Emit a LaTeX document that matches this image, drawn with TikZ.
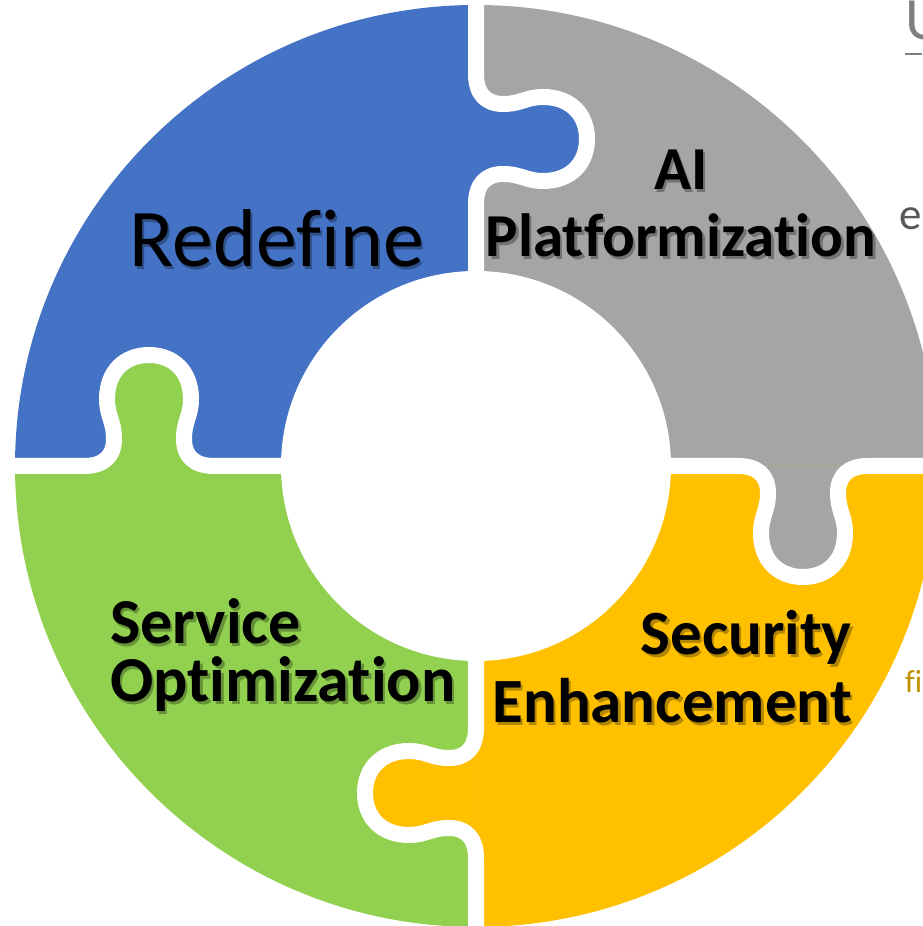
\documentclass[tikz,border=0pt]{standalone}
\usepackage{fontspec}
\setmainfont{Carlito}[Ligatures={NoCommon}]
\usetikzlibrary{calc}
\definecolor{pzblue}{HTML}{4472C4}
\definecolor{pzgray}{HTML}{A5A5A5}
\definecolor{pzyellow}{HTML}{FFC000}
\definecolor{pzgreen}{HTML}{92D050}
\definecolor{pzedgegray}{HTML}{7F7F7F}
\definecolor{pzdarkgray}{HTML}{595959}
\definecolor{pzgold}{HTML}{BF9000}
\newcommand\pzlabel[5]{%
  \node[#2, text=black, text opacity=0.3] (#1-sh) at (#3+2.5,#4-2.5) {#5};
  \node[#2] (#1) at (#3,#4) {#5};}
\begin{document}
\begin{tikzpicture}[x=1pt,y=1pt,
  tabcurve/.style={insert path={.. controls (-282,0) and (-292,10) .. (-292,27)
     .. controls (-292,45) and (-285,50) .. (-285,67)
     .. controls (-285,95) and (-303,111) .. (-327,111)
     .. controls (-351,111) and (-369,95) .. (-369,67)
     .. controls (-369,50) and (-362,45) .. (-362,27)
     .. controls (-362,10) and (-372,0) .. (-392,0)}},
  cutline/.style={draw=white, line width=16pt, line join=round, line cap=butt},
  reglabel/.style={inner sep=0pt, font=\fontsize{82}{82}\selectfont, text=black},
  boldlabel/.style={inner sep=0pt, font=\fontsize{61}{61}\selectfont\bfseries, text=black},
  boldlabelb/.style={inner sep=0pt, font=\fontsize{63}{63}\selectfont\bfseries, text=black},
  boldlabelc/.style={inner sep=0pt, font=\fontsize{64}{64}\selectfont\bfseries, text=black},
]
\useasboundingbox (0,0) rectangle (922,926);
\coordinate (C) at (476,460);
% quadrants
\fill[pzblue]   (C) -- ++(180:461) arc[start angle=180, end angle=90, radius=461] -- cycle;
\fill[pzgray]   (C) -- ++(90:461) arc[start angle=90, end angle=0, radius=461] -- cycle;
\fill[pzyellow] (C) -- ++(0:461) arc[start angle=360, end angle=270, radius=461] -- cycle;
\fill[pzgreen]  (C) -- ++(270:461) arc[start angle=270, end angle=180, radius=461] -- cycle;
% tabs
\fill[pzgreen,  shift={(C)}, rotate=0]    (-262,0) [tabcurve] -- cycle;
\fill[pzblue,   shift={(C)}, rotate=-90]  (-262,0) [tabcurve] -- cycle;
\fill[pzgray,   shift={(C)}, rotate=-180] (-262,0) [tabcurve] -- cycle;
\fill[pzyellow, shift={(C)}, rotate=-270] (-262,0) [tabcurve] -- cycle;
% white cuts
\foreach \a in {0,-90,-180,-270}{
  \draw[cutline, shift={(C)}, rotate=\a] (-150,0) -- (-262,0) [tabcurve] -- (-490,0);
}
% hole
\fill[white] (C) circle[radius=195];
% labels (with a soft drop shadow, as in the reference)
\pzlabel{redefine}{reglabel, anchor=base west}{129}{659}{Redefine}
\pzlabel{ai}{boldlabel, anchor=base}{681}{736}{AI}
\pzlabel{platform}{boldlabel, anchor=base}{681}{669}{Platformization}
\pzlabel{service}{boldlabelc, anchor=base west}{110}{282}{Service}
\pzlabel{optim}{boldlabelc, anchor=base west}{110}{224}{Optimization}
\pzlabel{security}{boldlabelb, anchor=base east}{852}{271}{Security}
\pzlabel{enhance}{boldlabelb, anchor=base east}{852}{203}{Enhancement}
% cut-off texts at the right edge
\node[inner sep=0pt, anchor=base west, text=pzedgegray, font=\fontsize{60}{60}\selectfont] (edgeu) at (905,886) {U};
\draw[pzedgegray, line width=2pt] (905,872) -- (922,872);
\node[inner sep=0pt, anchor=base west, text=pzdarkgray, font=\fontsize{45}{45}\selectfont] (edgee) at (899,696) {e};
\node[inner sep=0pt, anchor=base west, text=pzgold, font=\fontsize{32}{32}\selectfont] (edgefi) at (905,233) {fi};
\end{tikzpicture}
\end{document}
